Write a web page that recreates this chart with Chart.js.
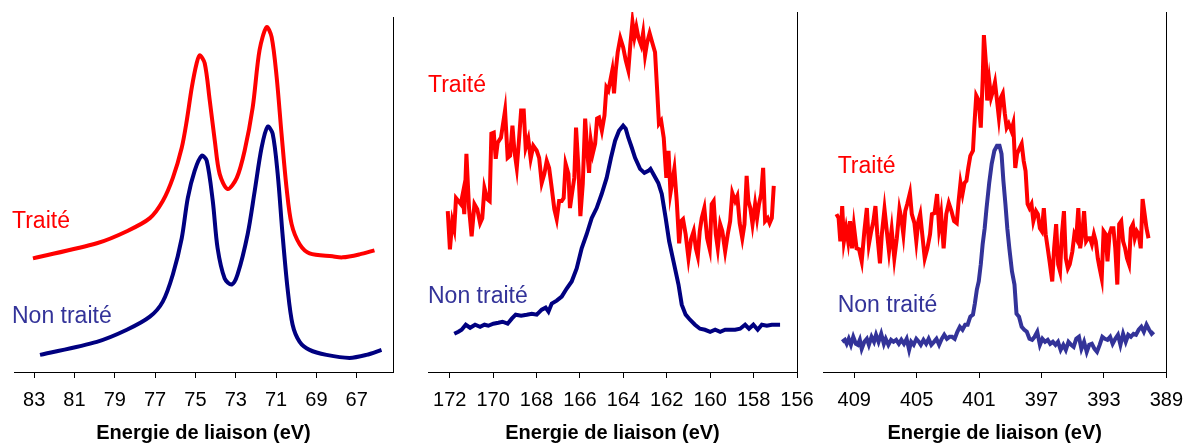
<!DOCTYPE html>
<html>
<head>
<meta charset="utf-8">
<script src="https://cdn.jsdelivr.net/npm/chart.js@4"></script>
<style>
  body { margin: 0; background: #fff; }
  #wrap { position: relative; width: 1195px; height: 443px; }
  #wrap canvas { position: absolute; left: 0; top: 0; }
</style>
</head>
<body>
<div id="wrap">
  <canvas id="c1" width="1195" height="443"></canvas>
  <canvas id="c2" width="1195" height="443"></canvas>
  <canvas id="c3" width="1195" height="443"></canvas>
</div>
<script>
// tick labels of each panel (eV)
var ticks1 = [83, 81, 79, 77, 75, 73, 71, 69, 67];
var ticks2 = [172, 170, 168, 166, 164, 162, 160, 158, 156];
var ticks3 = [409, 405, 401, 397, 393, 389];

var axisTitle = "Energie de liaison (eV)";
var labelTraite = "Traité";
var labelNonTraite = "Non traité";

// panel 1 : [energie (eV), intensite (u.a.)]
var p1Traite = [
  [83.06,113],[79.89,128],[78.40,140],[77.26,153],[76.62,170],[76.12,193],[75.68,223],
  [75.43,250],[75.18,283],[74.94,307],[74.79,315],[74.54,307],[74.29,270],[74.04,230],
  [73.80,197],[73.40,182],[72.95,193],[72.56,220],[72.16,263],[71.82,320],[71.47,343],
  [71.22,333],[70.97,293],[70.73,237],[70.48,183],[70.23,147],[69.83,127],[69.34,118],
  [68.20,115],[67.70,114],[66.86,117],[66.12,121]
];
var p1NonTraite = [
  [82.71,17],[79.89,30],[78.40,42],[77.26,55],[76.62,70],[76.12,97],[75.68,133],
  [75.38,173],[75.04,200],[74.69,215],[74.44,210],[74.14,170],[73.90,123],[73.55,93],
  [73.20,87],[72.91,97],[72.41,137],[72.06,180],[71.72,223],[71.42,244],[71.17,237],
  [70.92,197],[70.68,137],[70.43,83],[70.18,47],[69.83,30],[69.34,22],[68.50,17],
  [67.36,14],[66.52,17],[65.77,22]
];

// panel 2
var p2Traite = [
  [172.09,160],[171.99,122],[171.88,150],[171.79,142],[171.71,173],[171.60,170],[171.49,167],
  [171.40,177],[171.33,157],[171.23,217],[171.11,163],[170.99,135],[170.86,167],[170.73,162],
  [170.60,148],[170.50,153],[170.40,183],[170.27,172],[170.16,170],[170.08,237],[169.97,238],
  [169.88,212],[169.79,228],[169.64,233],[169.45,260],[169.33,213],[169.22,215],[169.11,245],
  [169.02,220],[168.91,203],[168.81,230],[168.71,260],[168.59,260],[168.50,223],[168.38,232],
  [168.27,212],[168.15,225],[167.99,220],[167.88,213],[167.76,188],[167.64,197],[167.53,210],
  [167.42,203],[167.30,183],[167.18,162],[167.07,152],[166.96,170],[166.84,170],[166.75,173],
  [166.66,207],[166.53,197],[166.46,163],[166.35,180],[166.26,193],[166.18,243],[166.07,203],
  [165.98,155],[165.87,187],[165.76,252],[165.64,213],[165.58,198],[165.50,230],[165.41,217],
  [165.30,227],[165.21,252],[165.12,253],[164.99,240],[164.87,255],[164.78,283],[164.69,280],
  [164.60,290],[164.51,300],[164.43,277],[164.35,300],[164.26,318],[164.14,332],[164.01,323],
  [163.89,310],[163.77,300],[163.68,325],[163.58,348],[163.49,333],[163.40,343],[163.31,333],
  [163.18,325],[163.09,337],[163.00,315],[162.91,327],[162.79,337],[162.66,327],[162.54,318],
  [162.45,283],[162.36,247],[162.26,250],[162.14,233],[162.02,193],[161.92,220],[161.83,178],
  [161.74,190],[161.65,202],[161.54,170],[161.43,128],[161.34,150],[161.25,152],[161.13,137],
  [161.00,113],[160.88,132],[160.76,140],[160.66,123],[160.57,115],[160.48,140],[160.39,153],
  [160.27,163],[160.14,133],[160.02,122],[159.93,167],[159.84,170],[159.74,137],[159.65,123],
  [159.54,147],[159.44,140],[159.31,120],[159.19,137],[159.08,150],[158.98,178],[158.85,170],
  [158.75,175],[158.64,148],[158.52,133],[158.42,147],[158.32,195],[158.24,170],[158.15,163],
  [158.05,147],[157.93,167],[157.84,153],[157.75,167],[157.65,177],[157.56,203],[157.47,150],
  [157.35,153],[157.26,148],[157.16,153],[157.07,185]
];
var p2NonTraite = [
  [171.79,38],[171.60,40],[171.45,42],[171.26,47],[171.06,44],[170.83,47],[170.60,45],
  [170.40,47],[170.22,46],[169.99,48],[169.76,49],[169.57,50],[169.33,48],[169.14,53],
  [168.96,57],[168.71,56],[168.45,57],[168.22,58],[167.99,57],[167.76,62],[167.58,64],
  [167.45,60],[167.30,68],[167.07,71],[166.84,75],[166.61,83],[166.38,90],[166.15,103],
  [165.92,123],[165.69,137],[165.46,153],[165.23,163],[165.00,177],[164.77,193],[164.57,213],
  [164.38,230],[164.20,240],[164.01,245],[163.89,242],[163.77,233],[163.61,223],[163.46,213],
  [163.23,202],[163.03,198],[162.85,200],[162.75,202],[162.62,197],[162.39,188],[162.23,177],
  [162.05,153],[161.89,130],[161.69,110],[161.46,87],[161.31,67],[161.13,57],[160.93,52],
  [160.70,47],[160.47,43],[160.24,42],[160.00,40],[159.77,42],[159.54,40],[159.31,42],
  [159.08,42],[158.85,42],[158.62,43],[158.39,47],[158.21,43],[158.01,47],[157.81,42],
  [157.62,47],[157.39,46],[157.16,47],[156.78,47]
];

// panel 3
var p3Traite = [
  [410.14,157],[410.00,153],[409.89,130],[409.77,165],[409.66,130],[409.52,143],[409.39,130],
  [409.27,150],[409.14,123],[409.02,145],[408.85,123],[408.69,122],[408.52,110],[408.35,140],
  [408.19,163],[408.06,127],[407.91,140],[407.77,150],[407.64,165],[407.52,137],[407.35,108],
  [407.23,137],[407.06,162],[406.89,137],[406.77,120],[406.60,142],[406.43,113],[406.27,133],
  [406.10,162],[405.98,153],[405.85,137],[405.73,160],[405.60,167],[405.43,178],[405.31,157],
  [405.14,148],[405.02,130],[404.89,150],[404.77,157],[404.64,137],[404.48,113],[404.31,123],
  [404.14,137],[404.02,157],[403.85,158],[403.69,177],[403.56,143],[403.43,157],[403.27,123],
  [403.10,157],[402.94,168],[402.77,160],[402.60,150],[402.43,148],[402.31,170],[402.19,188],
  [402.06,177],[401.93,188],[401.81,190],[401.69,203],[401.56,215],[401.39,220],[401.31,243],
  [401.18,275],[401.02,270],[400.89,243],[400.77,290],[400.69,335],[400.56,307],[400.48,270],
  [400.35,290],[400.23,273],[400.10,280],[399.98,288],[399.85,270],[399.73,253],[399.60,273],
  [399.48,277],[399.35,257],[399.23,243],[399.10,247],[398.93,240],[398.81,247],[398.68,203],
  [398.56,217],[398.39,223],[398.27,227],[398.14,210],[398.02,200],[397.89,167],[397.77,163],
  [397.64,167],[397.52,150],[397.35,160],[397.23,157],[397.10,143],[396.98,140],[396.85,163],
  [396.73,137],[396.60,123],[396.48,110],[396.31,90],[396.19,123],[396.06,147],[395.93,107],
  [395.81,100],[395.69,137],[395.56,160],[395.44,113],[395.31,103],[395.19,107],[395.02,120],
  [394.89,137],[394.77,133],[394.64,163],[394.52,123],[394.39,137],[394.27,160],[394.14,130],
  [394.02,133],[393.89,133],[393.77,127],[393.64,137],[393.52,130],[393.39,113],[393.27,103],
  [393.14,93],[393.02,140],[392.89,137],[392.77,110],[392.64,137],[392.52,143],[392.39,143],
  [392.27,123],[392.14,87],[392.02,147],[391.89,150],[391.77,130],[391.64,123],[391.52,113],
  [391.39,107],[391.27,143],[391.14,147],[391.02,133],[390.89,140],[390.77,137],[390.64,123],
  [390.52,172],[390.39,157],[390.27,143],[390.14,133]
];
var p3NonTraite = [
  [409.77,30],[409.60,32],[409.48,28],[409.35,33],[409.21,27],[409.06,35],[408.89,28],
  [408.77,27],[408.64,32],[408.52,23],[408.35,30],[408.19,33],[408.06,27],[407.89,35],
  [407.73,30],[407.60,37],[407.44,30],[407.27,38],[407.10,28],[406.98,33],[406.81,27],
  [406.64,32],[406.48,30],[406.31,32],[406.14,28],[405.98,32],[405.81,28],[405.64,33],
  [405.48,22],[405.35,30],[405.19,27],[405.02,33],[404.85,30],[404.73,27],[404.56,32],
  [404.39,28],[404.23,33],[404.06,27],[403.89,30],[403.73,33],[403.56,27],[403.39,33],
  [403.23,37],[403.06,33],[402.89,35],[402.73,35],[402.56,33],[402.39,40],[402.23,45],
  [402.06,42],[401.89,47],[401.73,47],[401.56,55],[401.39,57],[401.27,68],[401.14,82],
  [401.02,90],[400.89,107],[400.77,127],[400.64,143],[400.52,163],[400.35,188],[400.19,207],
  [400.02,220],[399.85,225],[399.69,225],[399.56,217],[399.44,190],[399.31,167],[399.19,143],
  [399.06,123],[398.89,100],[398.73,87],[398.60,58],[398.44,55],[398.27,45],[398.10,42],
  [397.94,40],[397.77,33],[397.60,32],[397.44,35],[397.27,40],[397.10,27],[396.94,33],
  [396.77,30],[396.60,32],[396.44,28],[396.27,30],[396.10,27],[395.94,30],[395.77,22],
  [395.60,27],[395.44,22],[395.27,30],[395.10,27],[394.94,25],[394.77,33],[394.60,35],
  [394.44,23],[394.27,30],[394.10,20],[393.94,27],[393.77,28],[393.60,23],[393.44,20],
  [393.27,27],[393.10,35],[392.94,33],[392.77,32],[392.60,35],[392.44,28],[392.27,33],
  [392.10,37],[391.94,27],[391.77,38],[391.60,30],[391.44,37],[391.27,35],[391.10,38],
  [390.94,37],[390.77,42],[390.60,45],[390.44,40],[390.27,47],[390.10,42],[389.94,38],
  [389.81,40]
];

var RED = "#ff0000";
var NAVY = "#000080";
var BLUE = "#333399";
var FONT = "'Liberation Sans', Arial, sans-serif";

// text labels placed with the chart scales
var curveLabels = {
  id: "curveLabels",
  afterDraw: function(chart, args, opts) {
    var ctx = chart.ctx;
    ctx.save();
    ctx.font = "23px " + FONT;
    ctx.textAlign = "left";
    ctx.textBaseline = "middle";
    opts.items.forEach(function(it) {
      ctx.fillStyle = it.color;
      ctx.fillText(it.text, chart.scales.x.getPixelForValue(it.x), chart.scales.y.getPixelForValue(it.y));
    });
    ctx.restore();
  }
};

function pts(arr) {
  return arr.map(function(p) { return { x: p[0], y: p[1] }; });
}

function makeChart(id, cfg) {
  var tickVals = cfg.ticks;
  return new Chart(document.getElementById(id), {
    type: "line",
    data: {
      datasets: [{
        data: pts(cfg.traite),
        borderColor: RED,
        borderWidth: 4,
        pointRadius: 0,
        tension: cfg.tension
      }, {
        data: pts(cfg.nonTraite),
        borderColor: cfg.blue,
        borderWidth: 4,
        pointRadius: 0,
        tension: cfg.tension
      }]
    },
    plugins: [curveLabels],
    options: {
      responsive: false,
      animation: false,
      devicePixelRatio: 1,
      layout: { padding: cfg.padding },
      plugins: {
        legend: { display: false },
        tooltip: { enabled: false },
        curveLabels: { items: cfg.labels }
      },
      scales: {
        x: {
          type: "linear",
          reverse: true,
          min: cfg.min,
          max: cfg.max,
          afterBuildTicks: function(scale) {
            scale.ticks = tickVals.map(function(v) { return { value: v }; });
          },
          grid: { drawOnChartArea: false, color: "#000", tickLength: 6, lineWidth: 1 },
          border: { color: "#000", width: 1 },
          ticks: {
            color: "#000",
            padding: 12,
            maxRotation: 0,
            autoSkip: false,
            font: { family: FONT, size: 20, lineHeight: 1 },
            callback: function(v) { return String(v); }
          },
          title: {
            display: true,
            text: axisTitle,
            color: "#000",
            padding: { top: 1, bottom: 0 },
            font: { family: FONT, size: 20, weight: "bold", lineHeight: 1 }
          }
        },
        y: {
          position: "right",
          min: 0,
          max: cfg.ymax,
          ticks: { display: false },
          grid: { display: false, drawTicks: false },
          border: { color: "#000", width: 1 }
        }
      }
    }
  });
}

makeChart("c1", {
  traite: p1Traite, nonTraite: p1NonTraite, blue: NAVY, tension: 0.3,
  ticks: ticks1, min: 65.2, max: 84, ymax: 353,
  padding: { left: 14, right: 802, top: 17, bottom: 0 },
  labels: [
    { text: labelTraite, color: RED, x: 84.1, y: 149 },
    { text: labelNonTraite, color: BLUE, x: 84.1, y: 55 }
  ]
});

makeChart("c2", {
  traite: p2Traite, nonTraite: p2NonTraite, blue: NAVY, tension: 0,
  ticks: ticks2, min: 156, max: 173, ymax: 358,
  padding: { left: 428, right: 398, top: 12, bottom: 0 },
  labels: [
    { text: labelTraite, color: RED, x: 173.0, y: 285 },
    { text: labelNonTraite, color: BLUE, x: 173.0, y: 75 }
  ]
});

makeChart("c3", {
  traite: p3Traite, nonTraite: p3NonTraite, blue: BLUE, tension: 0,
  ticks: ticks3, min: 389, max: 411, ymax: 358,
  padding: { left: 823, right: 20, top: 12, bottom: 0 },
  labels: [
    { text: labelTraite, color: RED, x: 410.06, y: 204 },
    { text: labelNonTraite, color: BLUE, x: 410.06, y: 66 }
  ]
});
</script>
</body>
</html>
